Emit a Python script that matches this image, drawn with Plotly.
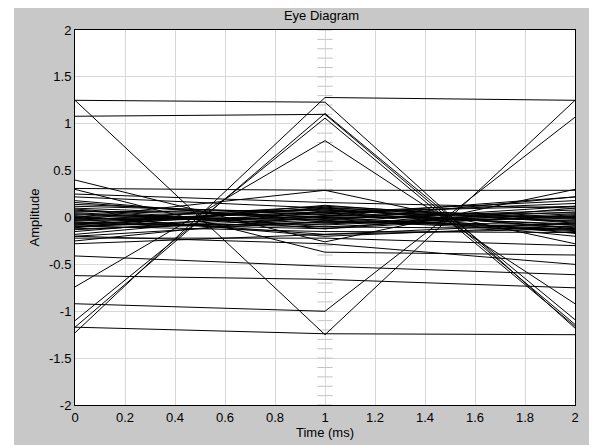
import numpy as np
import plotly.graph_objects as go

# ---- data ----
time_ms = [0, 1, 2]

amp_t0 = [1.25, 1.25, -1.23, 1.08, -1.17, -1.10, -0.74, -0.92, -1.17, -0.41, -0.62,
          0.40, 0.31, 0.00, 0.30, 0.22, 0.18, -0.28, -0.25, -0.22, 0.25, -0.20,
          -0.02, -0.05, -0.08, 0.03, -0.10, 0.06, -0.12, 0.08, -0.03, 0.01, -0.07,
          0.10, -0.15, 0.04, -0.09, 0.14, -0.01, -0.06, 0.05, -0.11, 0.02, -0.04,
          -0.13, 0.07, -0.08, 0.00, -0.06, 0.12, -0.20, 0.09, -0.03, -0.10, 0.16, -0.18]
amp_t1 = [1.23, -1.25, 1.28, 1.10, 1.11, 1.06, 0.82, -1.00, -1.24, -0.52, -0.66,
          -0.26, 0.29, 0.29, -0.37, 0.10, -0.05, -0.18, 0.02, -0.22, 0.16, -0.28,
          0.05, -0.10, 0.10, -0.03, 0.02, 0.08, -0.05, -0.12, 0.12, -0.18, 0.04,
          0.00, 0.07, -0.08, -0.15, 0.03, -0.02, 0.09, -0.06, 0.11, -0.20, 0.06,
          -0.01, 0.01, -0.07, 0.08, -0.12, 0.05, -0.04, -0.10, 0.00, 0.13, -0.03, 0.06]
amp_t2 = [-1.18, 1.25, 1.25, -1.14, -1.09, -1.16, -0.92, 1.07, -1.25, -0.61, -0.75,
          0.30, 0.29, -0.28, -0.40, 0.00, 0.12, -0.12, 0.22, -0.30, 0.10, -0.50,
          -0.08, 0.02, -0.12, -0.15, 0.05, -0.04, -0.10, 0.10, -0.02, -0.06, 0.15,
          -0.13, -0.01, 0.04, -0.16, -0.07, 0.08, -0.11, 0.00, -0.05, -0.09, 0.12,
          -0.14, -0.03, 0.06, -0.17, 0.03, 0.18, -0.08, -0.12, 0.01, -0.06, 0.22, -0.20]

x_tick_vals = [0, 0.2, 0.4, 0.6, 0.8, 1, 1.2, 1.4, 1.6, 1.8, 2]
x_tick_text = ["0", "0.2", "0.4", "0.6", "0.8", "1", "1.2", "1.4", "1.6", "1.8", "2"]
y_tick_vals = [-2, -1.5, -1, -0.5, 0, 0.5, 1, 1.5, 2]
y_tick_text = ["-2", "-1.5", "-1", "-0.5", "0", "0.5", "1", "1.5", "2"]

FONT = "Liberation Sans, Arial, sans-serif"
# the page body adds an 8px offset; the figure overfills the window so the grey reaches the edges
W, H = 597, 445
ML, MR, MT, MB = 67, 30, 22, 48

fig = go.Figure()

# minor tick marks along the centre line (x = 1)
centre_ticks = np.round(np.arange(-2.0, 2.0001, 0.1), 2)
fig.add_trace(go.Scatter(
    x=[time_ms[1]] * len(centre_ticks), y=centre_ticks, mode="markers",
    marker=dict(symbol="line-ew", size=11, line=dict(color="#c4c4c4", width=1)),
    hoverinfo="skip", showlegend=False))

for a, b, c in zip(amp_t0, amp_t1, amp_t2):
    fig.add_trace(go.Scatter(
        x=time_ms, y=[a, b, c], mode="lines",
        line=dict(color="black", width=1),
        hoverinfo="skip", showlegend=False))

# white strip at the left of the window
pw = W - ML - MR
ph = H - MT - MB
fig.add_shape(type="rect", xref="paper", yref="paper", layer="below",
              x0=-ML / pw - 0.01, x1=(6 - ML) / pw, y0=-MB / ph - 0.01, y1=(H - MB) / ph + 0.01,
              fillcolor="white", line_width=0)

fig.update_layout(
    width=W, height=H,
    margin=dict(l=ML, r=MR, t=MT, b=MB, pad=0),
    paper_bgcolor="#c8c8c8", plot_bgcolor="white",
    font=dict(family=FONT, size=13, color="black"),
    title=dict(text="Eye Diagram", x=0.493, xref="paper", xanchor="center",
               y=1 - 7 / H, yref="container", yanchor="middle",
               font=dict(family=FONT, size=13, color="black")),
    showlegend=False,
)
fig.update_xaxes(
    range=[0, 2], tickvals=x_tick_vals, ticktext=x_tick_text,
    showgrid=True, gridcolor="#d8d8d8", gridwidth=1, zeroline=False,
    showline=True, linecolor="black", linewidth=1, mirror=True, ticks="",
    title=dict(text="Time (ms)", standoff=4, font=dict(family=FONT, size=13)),
    tickfont=dict(family=FONT, size=13))
fig.update_yaxes(
    range=[-2, 2], tickvals=y_tick_vals, ticktext=y_tick_text,
    showgrid=True, gridcolor="#d8d8d8", gridwidth=1, zeroline=False,
    showline=True, linecolor="black", linewidth=1, mirror=True, ticks="",
    title=dict(text="Amplitude", standoff=6, font=dict(family=FONT, size=13)),
    tickfont=dict(family=FONT, size=13))

fig.write_html("out.html")
